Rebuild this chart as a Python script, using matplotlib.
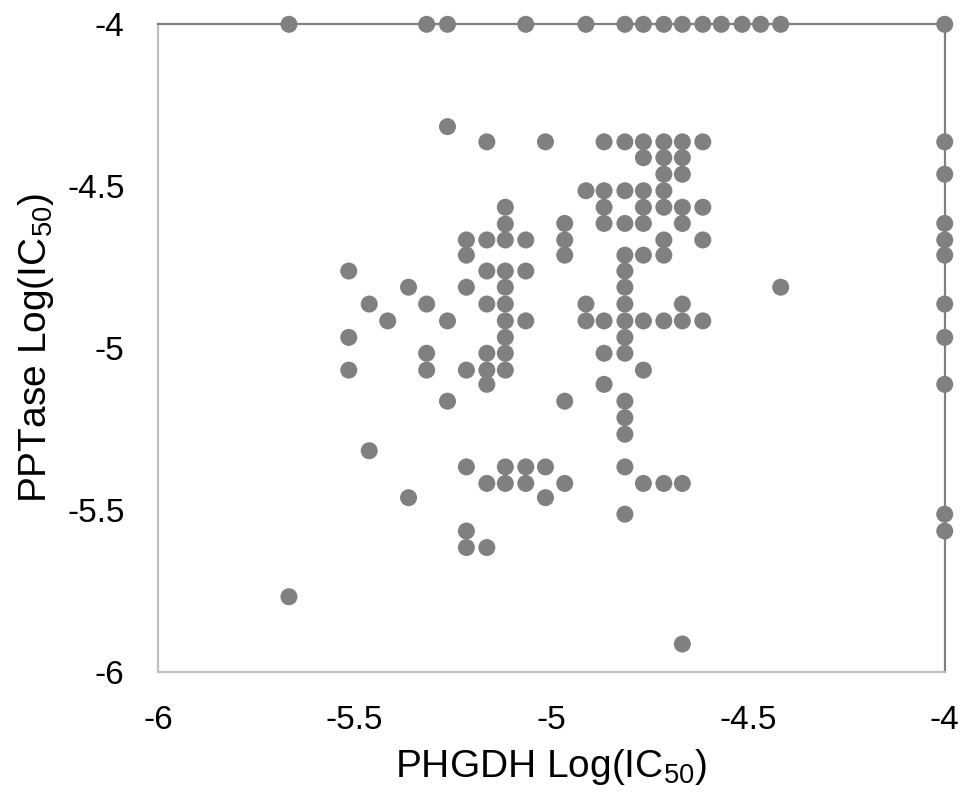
import matplotlib
matplotlib.use("Agg")
import matplotlib.pyplot as plt

plt.rcParams['font.family'] = ['Liberation Sans', 'DejaVu Sans']
plt.rcParams['mathtext.fontset'] = 'custom'
plt.rcParams['mathtext.rm'] = 'Liberation Sans'
plt.rcParams['mathtext.default'] = 'regular'

# values (log IC50 for both enzymes)
phgdh = [-5.667, -5.317, -5.264, -5.065, -4.912, -4.813, -4.766, -4.714, -4.667, -4.615,
         -4.568, -4.515, -4.468, -4.417, -4.0,
         -4.0, -4.0, -4.0, -4.0, -4.0, -4.0, -4.0, -4.0, -4.0, -4.0,
         -5.264, -5.164, -5.015, -5.117, -5.117,
         -5.216, -5.164, -5.117, -5.065, -5.216,
         -5.515, -5.164, -5.117, -5.065,
         -5.363, -5.216, -5.117,
         -5.463, -5.317, -5.164, -5.117,
         -5.416, -5.264, -5.117, -5.065,
         -5.515, -5.117,
         -5.317, -5.164, -5.117,
         -5.515, -5.317, -5.216, -5.164, -5.117,
         -5.164, -5.264, -5.463,
         -5.216, -5.117, -5.065, -5.015,
         -5.164, -5.117, -5.065,
         -5.363, -5.015, -5.216, -5.216, -5.164, -5.667,
         -4.866, -4.813, -4.766, -4.714, -4.667, -4.615,
         -4.766, -4.714, -4.667,
         -4.714, -4.667,
         -4.912, -4.866, -4.813, -4.766, -4.714,
         -4.866, -4.766, -4.714, -4.667, -4.615,
         -4.966, -4.866, -4.813, -4.766, -4.667,
         -4.966, -4.714, -4.615,
         -4.966, -4.813, -4.766, -4.714,
         -4.813, -4.813, -4.417,
         -4.912, -4.813, -4.667,
         -4.912, -4.866, -4.813, -4.766, -4.714, -4.667, -4.615,
         -4.813, -4.866, -4.813, -4.766, -4.866,
         -4.966, -4.813, -4.813, -4.813, -4.813,
         -4.966, -4.766, -4.714, -4.667,
         -4.813, -4.667]

pptase = [-4.0, -4.0, -4.0, -4.0, -4.0, -4.0, -4.0, -4.0, -4.0, -4.0,
          -4.0, -4.0, -4.0, -4.0, -4.0,
          -4.363, -4.463, -4.615, -4.666, -4.713, -4.864, -4.967, -5.112, -5.513, -5.565,
          -4.316, -4.363, -4.363, -4.565, -4.617,
          -4.666, -4.666, -4.666, -4.666, -4.713,
          -4.762, -4.762, -4.762, -4.762,
          -4.812, -4.812, -4.812,
          -4.864, -4.864, -4.864, -4.864,
          -4.916, -4.916, -4.916, -4.916,
          -4.967, -4.967,
          -5.016, -5.016, -5.016,
          -5.068, -5.068, -5.068, -5.068, -5.068,
          -5.112, -5.164, -5.317,
          -5.367, -5.367, -5.367, -5.367,
          -5.418, -5.418, -5.418,
          -5.462, -5.462, -5.565, -5.616, -5.616, -5.768,
          -4.363, -4.363, -4.363, -4.363, -4.363, -4.363,
          -4.412, -4.412, -4.412,
          -4.463, -4.463,
          -4.514, -4.514, -4.514, -4.514, -4.514,
          -4.565, -4.565, -4.565, -4.565, -4.565,
          -4.615, -4.615, -4.615, -4.615, -4.615,
          -4.666, -4.666, -4.666,
          -4.713, -4.713, -4.713, -4.713,
          -4.762, -4.812, -4.812,
          -4.864, -4.864, -4.864,
          -4.916, -4.916, -4.916, -4.916, -4.916, -4.916, -4.916,
          -4.967, -5.016, -5.016, -5.068, -5.112,
          -5.164, -5.164, -5.215, -5.266, -5.367,
          -5.418, -5.418, -5.418, -5.418,
          -5.513, -5.914]

ticks = [-6, -5.5, -5, -4.5, -4]
tick_labels = ['-6', '-5.5', '-5', '-4.5', '-4']

fig = plt.figure(figsize=(9.65, 7.97), dpi=100)
ax = fig.add_axes([0.1637, 0.157, 0.8153, 0.8125])

ax.scatter(phgdh, pptase, s=150, color='#808080', edgecolors='none', clip_on=False, zorder=3)

ax.set_xlim(-6, -4)
ax.set_ylim(-6, -4)
ax.set_xticks(ticks)
ax.set_xticklabels(tick_labels)
ax.set_yticks(ticks)
ax.set_yticklabels(tick_labels)
ax.tick_params(length=0, labelsize=24, pad=24)

for side in ['left', 'bottom']:
    ax.spines[side].set_color('#bfbfbf')
    ax.spines[side].set_linewidth(1.6)
for side in ['top', 'right']:
    ax.spines[side].set_color('#808080')
    ax.spines[side].set_linewidth(1.6)

ax.set_xlabel('PHGDH Log(IC$_{50}$)', fontsize=28, labelpad=8)
ax.set_ylabel('PPTase Log(IC$_{50}$)', fontsize=28, labelpad=8)

fig.savefig('out.png', dpi=100)
